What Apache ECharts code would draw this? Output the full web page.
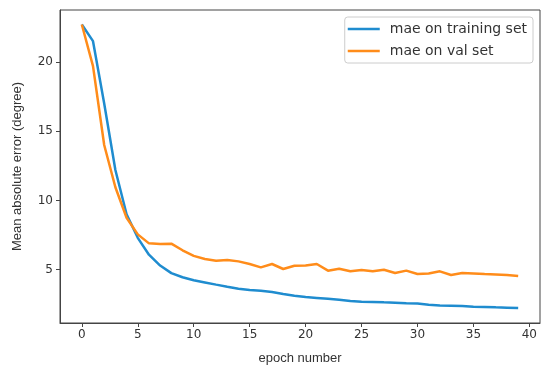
<!DOCTYPE html>
<html>
<head>
<meta charset="utf-8">
<script src="https://cdn.jsdelivr.net/npm/echarts@6/dist/echarts.min.js"></script>
<style>
html,body{margin:0;padding:0;background:#fff;}
#c{width:550px;height:371px;}
</style>
</head>
<body>
<div id="c"></div>
<script>
const epochs = Array.from({length: 40}, (_, i) => i);
const maeTrain = [22.7, 21.5, 17.0, 12.2, 9.0, 7.3, 6.08, 5.3, 4.75, 4.45,
  4.24, 4.08, 3.92, 3.77, 3.63, 3.53, 3.48, 3.39, 3.25, 3.12,
  3.02, 2.96, 2.9, 2.83, 2.74, 2.69, 2.67, 2.64, 2.62, 2.58,
  2.55, 2.47, 2.42, 2.4, 2.37, 2.33, 2.31, 2.28, 2.26, 2.23];
const maeVal = [22.7, 19.7, 14.0, 10.95, 8.75, 7.55, 6.9, 6.85, 6.88, 6.4,
  6.0, 5.77, 5.65, 5.7, 5.6, 5.41, 5.17, 5.41, 5.05, 5.28,
  5.31, 5.41, 4.93, 5.07, 4.88, 4.98, 4.88, 5.0, 4.76, 4.93,
  4.69, 4.73, 4.88, 4.62, 4.76, 4.73, 4.69, 4.66, 4.62, 4.55];
const xTicks = [0, 5, 10, 15, 20, 25, 30, 35, 40];
const yTicks = [5, 10, 15, 20];
const seriesNames = ['mae on training set', 'mae on val set'];
const colors = ['#1f8ccf', '#ff8c1a'];

const tickFont = {fontFamily: 'DejaVu Sans', fontSize: 12, color: '#333'};
const chart = echarts.init(document.getElementById('c'), null, {renderer: 'canvas'});
chart.setOption({
  animation: false,
  color: colors,
  grid: {left: 60, right: 10, top: 10, bottom: 48, show: true, borderColor: '#444', borderWidth: 1, containLabel: false},
  legend: {
    data: seriesNames, orient: 'vertical', right: 17, top: 17,
    icon: 'rect', itemWidth: 32, itemHeight: 2.5, itemGap: 8,
    padding: [5, 6, 5, 3],
    borderColor: '#ccc', borderWidth: 1, borderRadius: 3,
    textStyle: {fontFamily: 'DejaVu Sans', fontSize: 14, color: '#333', padding: [0, 0, 0, 5]}
  },
  xAxis: {
    type: 'value', min: -1.95, max: 40.95,
    name: 'epoch number', nameLocation: 'middle', nameGap: 29,
    nameTextStyle: {fontFamily: 'Liberation Sans', fontSize: 13, color: '#333'},
    axisLine: {show: true, onZero: false, lineStyle: {color: '#444'}},
    axisTick: {show: true, length: 4, customValues: xTicks, lineStyle: {color: '#444'}},
    axisLabel: Object.assign({customValues: xTicks, margin: 6}, tickFont),
    splitLine: {show: false}
  },
  yAxis: {
    type: 'value', min: 1.15, max: 23.75,
    name: 'Mean absolute error (degree)', nameLocation: 'middle', nameGap: 36,
    nameTextStyle: {fontFamily: 'Liberation Sans', fontSize: 13, color: '#333'},
    axisLine: {show: true, onZero: false, lineStyle: {color: '#444'}},
    axisTick: {show: true, length: 4, customValues: yTicks, lineStyle: {color: '#444'}},
    axisLabel: Object.assign({customValues: yTicks, margin: 7}, tickFont),
    splitLine: {show: false}
  },
  series: [
    {name: seriesNames[0], type: 'line', data: epochs.map((e, i) => [e, maeTrain[i]]), showSymbol: false, lineStyle: {width: 2.5}},
    {name: seriesNames[1], type: 'line', data: epochs.map((e, i) => [e, maeVal[i]]), showSymbol: false, lineStyle: {width: 2.5}}
  ]
});
</script>
</body>
</html>
